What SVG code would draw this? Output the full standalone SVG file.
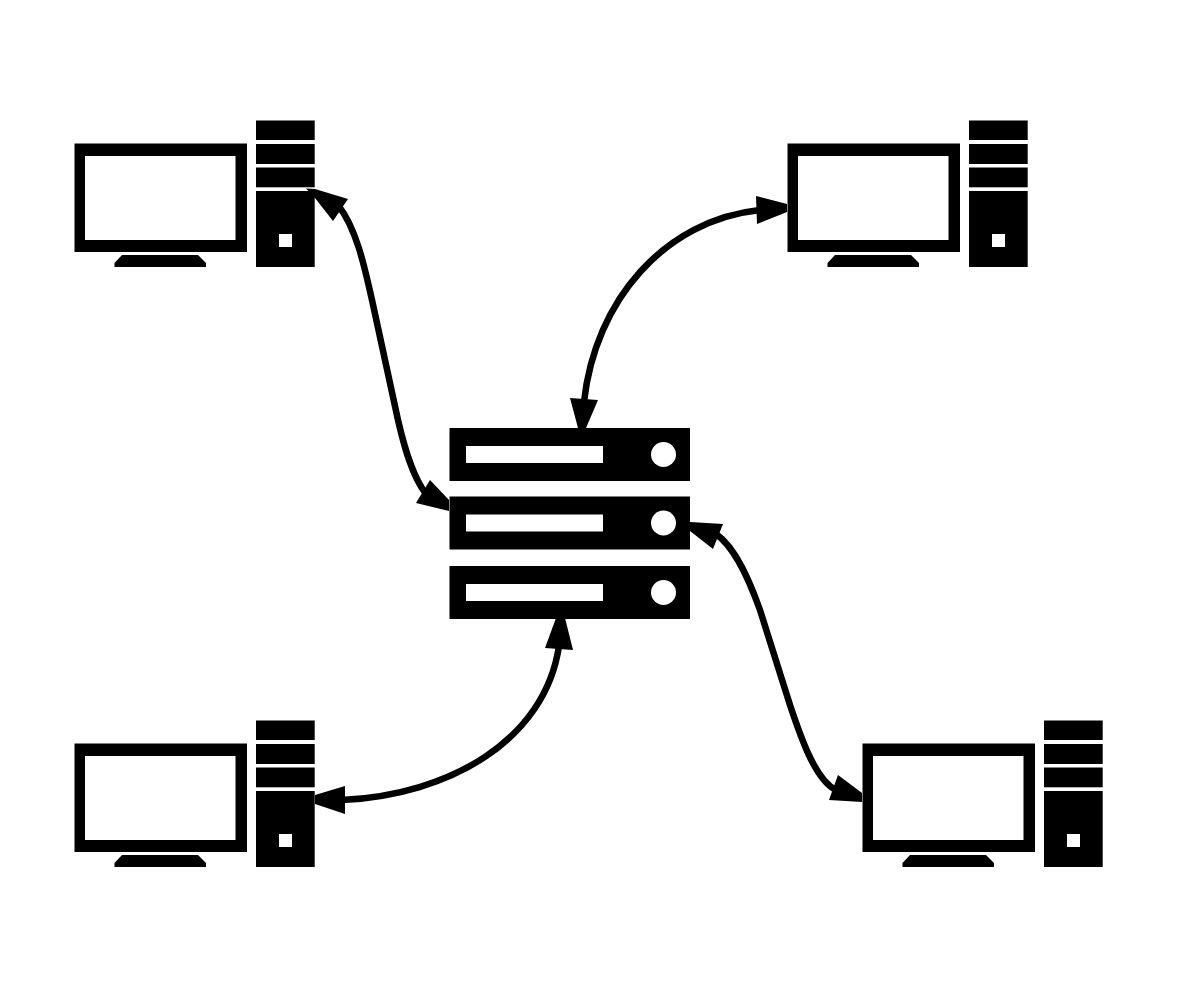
<svg xmlns="http://www.w3.org/2000/svg" xmlns:xlink="http://www.w3.org/1999/xlink" width="1178" height="990" viewBox="0 0 1178 990">
<style>
.k{fill:#000}
.w{fill:#fff}
.c{fill:none;stroke:#000;stroke-width:6.500}
</style>
<defs>
<g id="pc">
<path class="k" fill-rule="evenodd" d="M74.500 143.500H247V252H74.500ZM85 156V240H235.500V156Z"/>
<path class="k" d="M114.500 267V263L122 255H198L206 263V267Z"/>
<rect class="k" x="256" y="120.500" width="58.700" height="19.500"/>
<rect class="k" x="256" y="144" width="58.700" height="20"/>
<rect class="k" x="256" y="167.500" width="58.700" height="19.800"/>
<rect class="k" x="256" y="191" width="58.700" height="76"/>
<rect class="w" x="279" y="234" width="13" height="13"/>
</g>
<g id="rack">
<rect class="k" x="449.500" y="0" width="240.500" height="53"/>
<rect class="w" x="466" y="18" width="137" height="17"/>
<circle class="w" cx="663.500" cy="26.500" r="12.500"/>
</g>
</defs>
<rect class="w" width="1178" height="990"/>
<g id="computer-top-left"><use xlink:href="#pc" href="#pc"/></g>
<g id="computer-top-right"><use xlink:href="#pc" href="#pc" x="713"/></g>
<g id="computer-bottom-left"><use xlink:href="#pc" href="#pc" y="600"/></g>
<g id="computer-bottom-right"><use xlink:href="#pc" href="#pc" x="788" y="600"/></g>
<g id="server">
<use xlink:href="#rack" href="#rack" y="428"/>
<use xlink:href="#rack" href="#rack" y="496.500"/>
<use xlink:href="#rack" href="#rack" y="566"/>
</g>
<g id="connectors">
<path class="c" d="M338 205C356 228 364 264 372 300L398 420C404 446 412 476 426 494"/>
<polygon class="k" points="306,188.500 315,189 348,199 333,221 315,198"/>
<polygon class="k" points="449,500 449,511 416,503 430,480"/>
<path class="c" d="M760 210C665 220 595 300 584 402"/>
<polygon class="k" points="787,204 787,212 757,224 756,196"/>
<polygon class="k" points="586,428 578,428 570,398 598,400"/>
<path class="c" d="M716 534C736 548 750 582 760 610L790 705C800 735 815 780 836 790"/>
<polygon class="k" points="690,522 723,524 713,549 690,531"/>
<polygon class="k" points="862,793 862,802 829,800 838,775"/>
<path class="c" d="M559 646C545 740 450 795 342 800"/>
<polygon class="k" points="556,618 565,618 573,650 545,648"/>
<polygon class="k" points="315,795 345,786 345,814 315,804"/>
</g>
</svg>
